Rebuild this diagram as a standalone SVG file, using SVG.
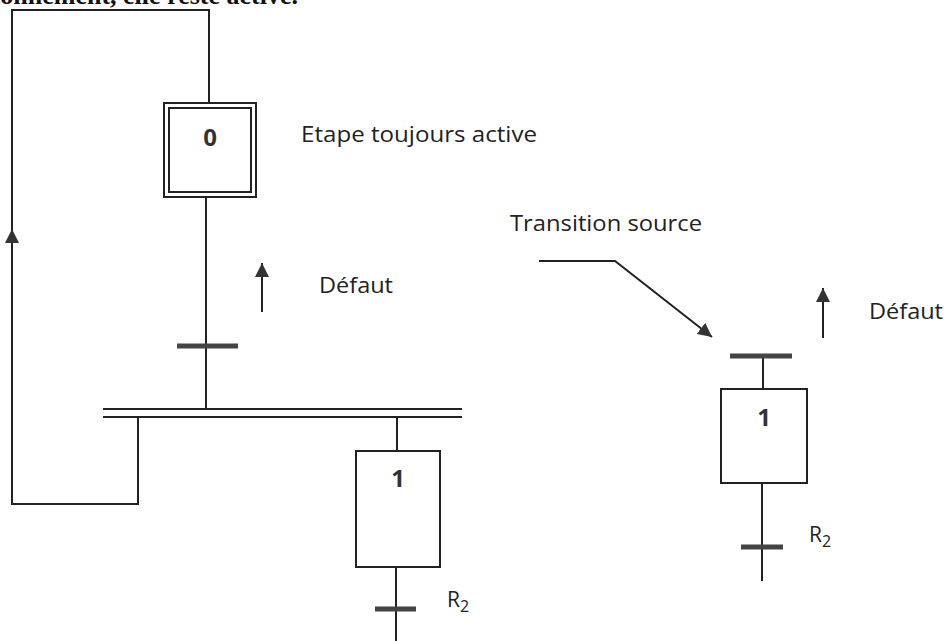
<svg xmlns="http://www.w3.org/2000/svg" width="947" height="641" viewBox="0 0 947 641">
<style>
.ln{stroke:#222;stroke-width:2;fill:none}
.bar{stroke:#444;stroke-width:5;fill:none}
.box{stroke:#222;stroke-width:2;fill:#fff}
.t{font-family:"Open Sans","Liberation Sans",Arial,sans-serif;font-size:21px;fill:#222}
.num{font-family:"Open Sans","Liberation Sans",Arial,sans-serif;font-size:24px;font-weight:bold;fill:#333;text-anchor:middle}
.hdr{font-family:"Liberation Serif","Times New Roman",serif;font-size:26px;font-weight:bold;fill:#111;text-anchor:end}
</style>
<defs>
<marker id="ah" viewBox="0 0 10 10" refX="10" refY="5" markerWidth="14" markerHeight="14" markerUnits="userSpaceOnUse" orient="auto">
<path d="M0,0 L10,5 L0,10 Z" fill="#333"/>
</marker>
</defs>
<rect width="947" height="641" fill="#fff"/>
<text class="hdr" x="298" y="4">fonctionnement, elle reste active.</text>

<g id="connectors">
<polyline class="ln" points="209,103 209,10 12,10 12,504 138,504 138,417"/>
<line class="ln" x1="12" y1="300" x2="12" y2="229" marker-end="url(#ah)"/>
<line class="ln" x1="206" y1="197" x2="206" y2="409"/>
<line class="ln" x1="103" y1="409" x2="462" y2="409"/>
<line class="ln" x1="103" y1="417" x2="462" y2="417"/>
<line class="ln" x1="397" y1="417" x2="397" y2="451"/>
<line class="ln" x1="396" y1="567" x2="396" y2="641"/>
<line class="ln" x1="262" y1="312" x2="262" y2="263" marker-end="url(#ah)"/>
<line class="ln" x1="823" y1="338" x2="823" y2="288" marker-end="url(#ah)"/>
<polyline class="ln" points="539,261 615,261 712,337" marker-end="url(#ah)"/>
<line class="ln" x1="763" y1="356" x2="763" y2="389"/>
<line class="ln" x1="762" y1="483" x2="762" y2="581"/>
</g>

<g id="step0">
<rect class="box" x="164" y="103" width="92" height="94"/>
<rect class="box" x="169" y="108" width="82" height="84"/>
<text class="num" x="210" y="146">0</text>
</g>

<g id="t0">
<line class="bar" x1="177" y1="346" x2="238" y2="346"/>
</g>

<g id="step1">
<rect class="box" x="356" y="451" width="84" height="116"/>
<text class="num" x="398" y="487">1</text>
</g>

<g id="t1">
<line class="bar" x1="375" y1="609" x2="416" y2="609"/>
<text class="t" x="447" y="607" font-size="22">R<tspan font-size="16" dy="5">2</tspan></text>
</g>

<g id="t-source">
<line class="bar" x1="730" y1="356" x2="792" y2="356"/>
</g>

<g id="step1b">
<rect class="box" x="721" y="389" width="86" height="94"/>
<text class="num" x="764" y="426">1</text>
</g>

<g id="t1b">
<line class="bar" x1="741" y1="547" x2="783" y2="547"/>
<text class="t" x="809" y="542" font-size="22">R<tspan font-size="16" dy="5">2</tspan></text>
</g>

<g id="labels">
<text class="t" x="301" y="142" textLength="236" lengthAdjust="spacingAndGlyphs">Etape toujours active</text>
<text class="t" x="319" y="293" textLength="74" lengthAdjust="spacingAndGlyphs">Défaut</text>
<text class="t" x="510" y="231" textLength="192" lengthAdjust="spacingAndGlyphs">Transition source</text>
<text class="t" x="869" y="319" textLength="74" lengthAdjust="spacingAndGlyphs">Défaut</text>
</g>
</svg>
